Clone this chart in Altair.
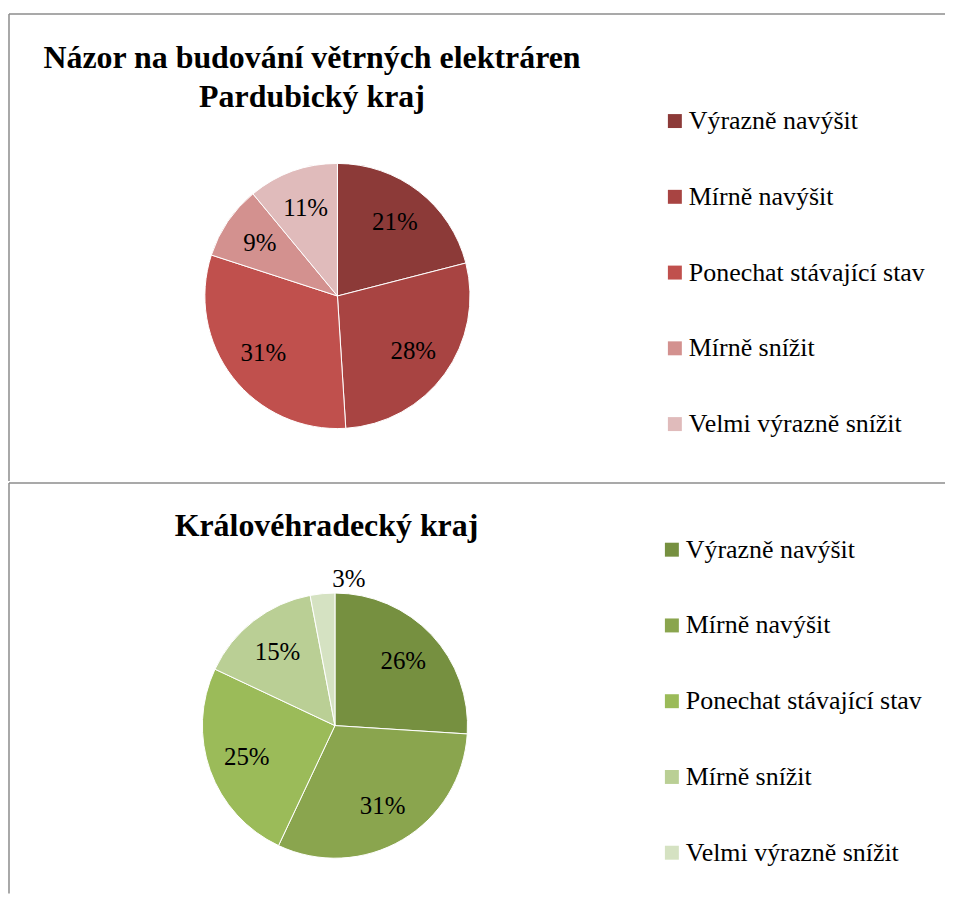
import altair as alt
import pandas as pd

categories = ["Výrazně navýšit", "Mírně navýšit", "Ponechat stávající stav",
              "Mírně snížit", "Velmi výrazně snížit"]
pardubicky = [21, 28, 31, 9, 11]
kralovehradecky = [26, 31, 25, 15, 3]
red_colors = ["#8C3A38", "#A84442", "#C0504D", "#D3918F", "#E0BBBB"]
green_colors = ["#769040", "#8AA54E", "#9BBB59", "#BACF95", "#D5E2C2"]
title_top = ["Názor na budování větrných elektráren", "Pardubický kraj"]
title_bottom = ["Královéhradecký kraj"]

FONT = "Liberation Serif"
W = 940
one = pd.DataFrame({"k": [0]})
BORDER = "#8C8C8C"


def panel(values, colors, titles, title_x, title_ys, height, cx, cy,
          leg_x, leg_y, rules):
    df = pd.DataFrame({"cat": categories, "value": values,
                       "order": list(range(len(categories)))})
    base = alt.Chart(df)
    arcs = base.mark_arc(radius=133, stroke="white", strokeWidth=1).encode(
        theta=alt.Theta("value:Q", stack=True),
        color=alt.Color("cat:N", sort=categories,
                        scale=alt.Scale(domain=categories, range=colors),
                        legend=alt.Legend(orient="none", legendX=leg_x, legendY=leg_y,
                                          title=None, symbolType="square",
                                          symbolSize=196, symbolStrokeWidth=0,
                                          labelFont=FONT, labelFontSize=26,
                                          labelColor="black", labelOffset=1,
                                          rowPadding=50, padding=0, labelLimit=400)),
        order=alt.Order("order:Q"),
        x=alt.value(cx), y=alt.value(cy),
    )
    labels = base.transform_calculate(
        label="datum.value + '%'",
        r="datum.value < 5 ? 148 : 94",
    ).mark_text(font=FONT, fontSize=25, color="black",
                align="center", baseline="middle").encode(
        theta=alt.Theta("value:Q", stack=True),
        radius=alt.Radius("r:Q", scale=None),
        order=alt.Order("order:Q"),
        text="label:N",
        x=alt.value(cx), y=alt.value(cy),
    )
    layers = [arcs, labels]
    for t, ty in zip(titles, title_ys):
        layers.append(alt.Chart(one).mark_text(
            font=FONT, fontSize=32, fontWeight="bold", color="black",
            align="center", baseline="alphabetic").encode(
            x=alt.value(title_x), y=alt.value(ty), text=alt.value(t)))
    for r in rules:
        layers.append(alt.Chart(one).mark_rule(color=BORDER, strokeWidth=1.5).encode(**r))
    return alt.layer(*layers).properties(width=W, height=height)


top = panel(pardubicky, red_colors, title_top, 305, [59, 98], 473,
            330.5, 287.5, 656, 99,
            [dict(x=alt.value(1), x2=alt.value(W), y=alt.value(4.5)),
             dict(x=alt.value(1), y=alt.value(4.5), y2=alt.value(473))])
bottom = panel(kralovehradecky, green_colors, title_bottom, 319.5, [54], 413,
               328, 244.5, 653, 55,
               [dict(x=alt.value(1), x2=alt.value(W), y=alt.value(1)),
                dict(x=alt.value(1), y=alt.value(1), y2=alt.value(413))])

chart = alt.vconcat(top, bottom, spacing=0).resolve_scale(color="independent").properties(
    padding=0).configure_view(stroke=None)

chart.save("out.html", embed_options={"renderer": "svg", "actions": False})
